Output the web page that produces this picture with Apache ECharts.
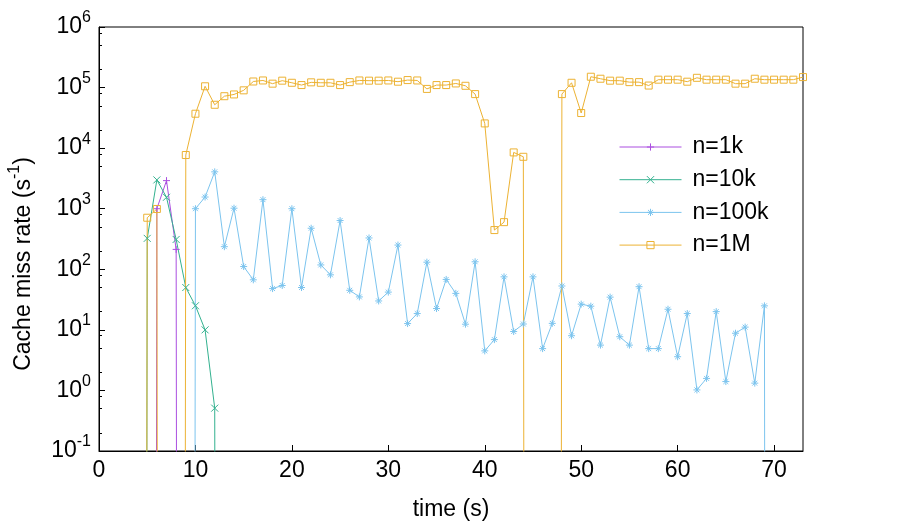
<!DOCTYPE html>
<html>
<head>
    <meta charset="utf-8">
    <title>Cache miss rate</title>
    <script src="https://cdn.jsdelivr.net/npm/echarts@6/dist/echarts.min.js"></script>
    <style>
        html, body { margin: 0; padding: 0; background: #fff; }
        #chart1 { width: 900px; height: 525px; }
    </style>
</head>
<body>
<div id="chart1"></div>
<script type="text/javascript">
    // a zero reading: log axis can't draw 0, a tiny value sends the line straight off the bottom
    var ZERO = 1e-100;

    var xTicks = [0, 10, 20, 30, 40, 50, 60, 70];
    var yMinorTicks = [0.2, 0.5, 0.8, 2, 5, 8, 20, 50, 80, 200, 500, 800,
        2000, 5000, 8000, 20000, 50000, 80000, 200000, 500000, 800000];

    var names = ['n=1k', 'n=10k', 'n=100k', 'n=1M'];

    var t1k = [5, 6, 7, 8, 9];
    var v1k = [ZERO, 1000, 2910, 213, ZERO];

    var t10k = [4, 5, 6, 7, 8, 9, 10, 11, 12, 13];
    var v10k = [ZERO, 324, 2990, 1545, 311, 50, 25, 10, 0.51, ZERO];

    var t100k = [9, 10, 11, 12, 13, 14, 15, 16, 17, 18, 19, 20, 21, 22, 23, 24, 25, 26, 27, 28, 29,
        30, 31, 32, 33, 34, 35, 36, 37, 38, 39, 40, 41, 42, 43, 44, 45, 46, 47, 48, 49,
        50, 51, 52, 53, 54, 55, 56, 57, 58, 59, 60, 61, 62, 63, 64, 65, 66, 67, 68, 69, 70];
    var v100k = [ZERO, 1000, 1560, 4060, 236, 1020, 111, 67, 1410, 48, 54, 1000, 50, 476, 118, 81, 638,
        45, 35, 329, 30, 42, 251, 12.7, 18.6, 131, 22.5, 68, 40, 12.4, 133, 4.5, 6.9, 75, 9.4,
        12.5, 75, 4.9, 12.8, 53, 8.0, 26.6, 24.6, 5.6, 34.7, 7.7, 5.6, 51.6, 4.9, 4.9, 21.9,
        3.6, 18.6, 1.02, 1.58, 20, 1.4, 8.8, 11.1, 1.32, 24.9, ZERO];

    var t1M = [4, 5, 6, 7, 8, 9, 10, 11, 12, 13, 14, 15, 16, 17, 18, 19, 20, 21, 22, 23, 24, 25, 26, 27, 28, 29,
        30, 31, 32, 33, 34, 35, 36, 37, 38, 39, 40, 41, 42, 43, 44, 45, 46, 47, 48, 49,
        50, 51, 52, 53, 54, 55, 56, 57, 58, 59, 60, 61, 62, 63, 64, 65, 66, 67, 68, 69,
        70, 71, 72, 73];
    var v1M = [ZERO, 710, 990, ZERO, ZERO, 7700, 37000, 105000, 52000, 72000, 77000, 90000, 126000,
        131000, 116000, 130000, 120000, 110000, 122000, 120000, 120000, 110000, 123000, 131000,
        130000, 130000, 131000, 125000, 133000, 131000, 95000, 110000, 110000, 117000, 107000,
        78000, 25600, 444, 600, 8500, 7200, ZERO, ZERO, ZERO, 78000, 120000, 38000, 151000,
        140000, 130000, 130000, 123000, 123000, 108000, 135000, 135000, 135000, 125000, 145000,
        135000, 135000, 135000, 116000, 116000, 140000, 135000, 135000, 135000, 135000, 149000];

    // gnuplot default palette, drawn thin so it reads lighter
    var colors = ['#ab4fe0', '#33b18f', '#7cc4ee', '#ecb233'];
    var symbols = [
        'path://M0,5L10,5M5,0L5,10',
        'path://M0,0L10,10M10,0L0,10',
        'path://M0,5L10,5M5,0L5,10M1.5,1.5L8.5,8.5M8.5,1.5L1.5,8.5',
        'rect'
    ];

    function pairs(t, v) {
        var out = [];
        for (var i = 0; i < t.length; i++) out.push([t[i], v[i]]);
        return out;
    }

    var allData = [pairs(t1k, v1k), pairs(t10k, v10k), pairs(t100k, v100k), pairs(t1M, v1M)];

    var font = 'Liberation Sans';
    var myChart = echarts.init(document.getElementById('chart1'), null, {renderer: 'canvas'});

    var series = [];
    for (var i = 0; i < 4; i++) {
        series.push({
            name: names[i],
            type: 'line',
            data: allData[i],
            symbol: symbols[i],
            symbolSize: 7,
            showAllSymbol: true,
            clip: true,
            lineStyle: {color: colors[i], width: 1},
            itemStyle: {
                color: i === 3 ? 'rgba(0,0,0,0)' : colors[i],
                borderColor: colors[i],
                borderWidth: 1
            },
            emphasis: {disabled: true}
        });
    }

    var richTicks = {
        a: {fontSize: 23, fontFamily: font, color: '#000', lineHeight: 34},
        s: {fontSize: 16, fontFamily: font, color: '#000', lineHeight: 16, verticalAlign: 'top'}
    };

    myChart.setOption({
        animation: false,
        textStyle: {fontFamily: font},
        grid: {
            left: 99, right: 97, top: 27, bottom: 74,
            outerBoundsMode: 'none',
            containLabel: false,
            show: true, borderColor: '#000', borderWidth: 1, backgroundColor: 'transparent'
        },
        legend: {
            orient: 'vertical',
            left: 614,
            top: 130,
            itemWidth: 62,
            itemHeight: 9,
            itemGap: 8.7,
            selectedMode: false,
            data: names,
            lineStyle: {width: 1},
            itemStyle: {borderWidth: 1},
            textStyle: {fontSize: 23, fontFamily: font, color: '#000', lineHeight: 24, padding: [0, 0, 0, 6]}
        },
        xAxis: {
            type: 'value',
            min: 0,
            max: 73,
            interval: 10,
            name: 'time (s)',
            nameLocation: 'middle',
            nameGap: 47,
            nameTextStyle: {fontSize: 23, color: '#000', fontFamily: font},
            splitLine: {show: false},
            axisLine: {lineStyle: {color: '#000', width: 1}},
            axisTick: {inside: true, length: 6, lineStyle: {color: '#000'}, customValues: xTicks},
            axisLabel: {fontSize: 23, color: '#000', margin: 8, customValues: xTicks}
        },
        yAxis: [{
            type: 'log',
            logBase: 10,
            min: 0.1,
            max: 1000000,
            interval: 1,
            name: '{a|Cache miss rate (s}{s|-1}{a|)}',
            nameLocation: 'middle',
            nameGap: 58,
            nameTextStyle: {
                color: '#000',
                padding: [0, 50, 0, 0],
                rich: richTicks
            },
            splitLine: {show: false},
            axisLine: {lineStyle: {color: '#000', width: 1}},
            axisTick: {inside: true, length: 6, lineStyle: {color: '#000'}},
            axisLabel: {
                margin: 8,
                formatter: function (v) {
                    var e = Math.round(Math.log(v) / Math.LN10);
                    return '{a|10}{s|' + e + '}';
                },
                rich: richTicks
            }
        }, {
            type: 'log',
            logBase: 10,
            min: 0.1,
            max: 1000000,
            position: 'left',
            splitLine: {show: false},
            axisLine: {show: false},
            axisTick: {inside: true, length: 3, lineStyle: {color: '#000'}, customValues: yMinorTicks},
            axisLabel: {show: false}
        }],
        series: series
    });
</script>
</body>
</html>
